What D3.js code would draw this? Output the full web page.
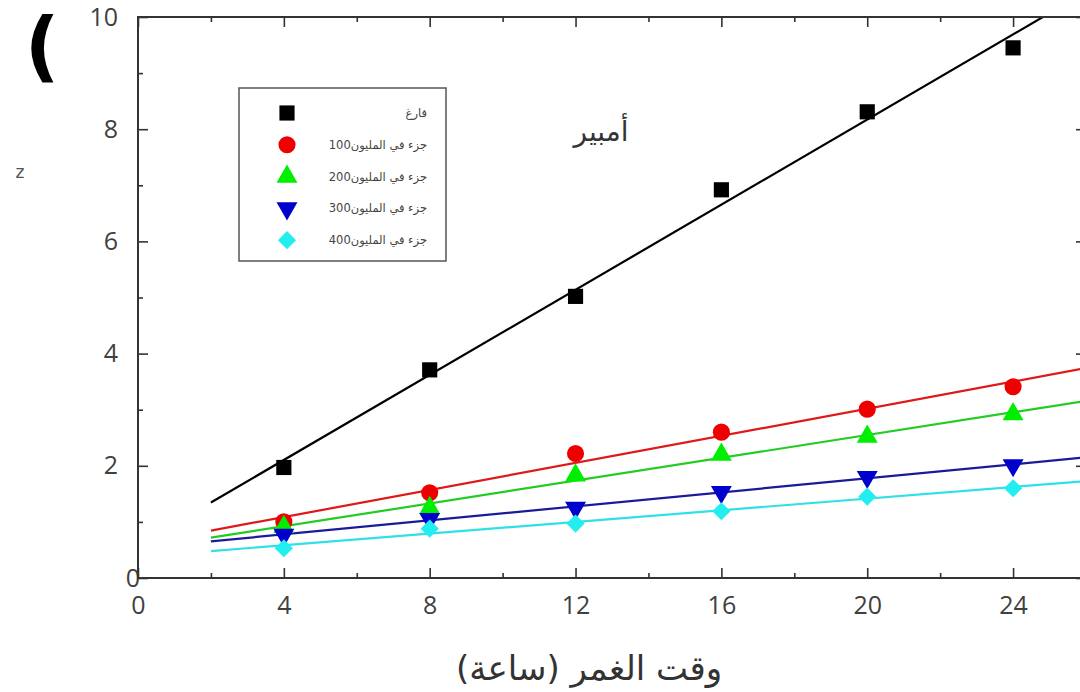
<!DOCTYPE html>
<html>
<head>
<meta charset="utf-8">
<script src="https://cdn.jsdelivr.net/npm/d3@7/dist/d3.min.js"></script>
<style>
  html, body { margin: 0; padding: 0; background: #fff; }
  svg { display: block; }
</style>
</head>
<body>
<svg id="chart" width="1080" height="692"></svg>
<script>
// Immersion time (hours)
const hours = [4, 8, 12, 16, 20, 24];

// Measured values for each inhibitor concentration
const blank  = [1.97, 3.71, 5.02, 6.92, 8.31, 9.45];
const ppm100 = [1.00, 1.52, 2.22, 2.60, 3.01, 3.41];
const ppm200 = [0.91, 1.25, 1.83, 2.20, 2.52, 2.92];
const ppm300 = [0.77, 1.05, 1.25, 1.53, 1.80, 2.01];
const ppm400 = [0.53, 0.88, 0.97, 1.19, 1.45, 1.60];

const seriesNames = ["فارغ", "100جزء في المليون", "200جزء في المليون", "300جزء في المليون", "400جزء في المليون"];

const xTicks = [0, 4, 8, 12, 16, 20, 24];
const xMinorTicks = [2, 6, 10, 14, 18, 22, 26];
const yTicks = [0, 2, 4, 6, 8, 10];
const yMinorTicks = [1, 3, 5, 7, 9];

const xTitle = "وقت الغمر (ساعة)";
const yTitle = "z";
const unitLabel = "أمبير";
const panelMark = "(";

// Fit range for the linear trend lines
const fitRange = [2, 26];

const svg = d3.select("#chart");
const W = 1080, H = 692;
const margin = { left: 138, top: 17, right: -6, bottom: 114 };

const x = d3.scaleLinear().domain([0, 26]).range([margin.left, W - margin.right]);
const y = d3.scaleLinear().domain([0, 10]).range([H - margin.bottom, margin.top]);

const styles = [
  { fill: "#000000", line: "#000000", type: "square" },
  { fill: "#ee0000", line: "#e01818", type: "circle" },
  { fill: "#00ee00", line: "#22cc22", type: "triangle" },
  { fill: "#0000cc", line: "#1a1a9a", type: "triangleDown" },
  { fill: "#22eef0", line: "#30e0e6", type: "diamond" }
];
const seriesValues = [blank, ppm100, ppm200, ppm300, ppm400];

function symbolPath(type) {
  switch (type) {
    case "square": return { d: d3.symbol(d3.symbolSquare, 230)(), rot: 0 };
    case "circle": return { d: d3.symbol(d3.symbolCircle, 230)(), rot: 0 };
    case "triangle": return { d: d3.symbol(d3.symbolTriangle, 190)(), rot: 0 };
    case "triangleDown": return { d: d3.symbol(d3.symbolTriangle, 190)(), rot: 180 };
    case "diamond": return { d: d3.symbol(d3.symbolSquare, 165)(), rot: 45 };
  }
}

// Least-squares line
function fit(xs, ys) {
  const n = xs.length;
  const mx = d3.mean(xs), my = d3.mean(ys);
  let sxy = 0, sxx = 0;
  for (let i = 0; i < n; i++) { sxy += (xs[i] - mx) * (ys[i] - my); sxx += (xs[i] - mx) ** 2; }
  const b = sxy / sxx;
  return { a: my - b * mx, b };
}

// Clip to the plot frame
svg.append("defs").append("clipPath").attr("id", "plotclip")
  .append("rect")
  .attr("x", x(0)).attr("y", y(10))
  .attr("width", x(26) - x(0)).attr("height", y(0) - y(10));

const plot = svg.append("g").attr("clip-path", "url(#plotclip)");

// Trend lines
seriesValues.forEach((vals, i) => {
  const f = fit(hours, vals);
  const pts = fitRange.map(h => [h, f.a + f.b * h]);
  plot.append("path")
    .attr("d", d3.line().x(d => x(d[0])).y(d => y(d[1]))(pts))
    .attr("fill", "none")
    .attr("stroke", styles[i].line)
    .attr("stroke-width", 2.2);
});

// Markers
seriesValues.forEach((vals, i) => {
  const s = symbolPath(styles[i].type);
  svg.append("g").selectAll("path")
    .data(vals.map((v, j) => [hours[j], v]))
    .join("path")
    .attr("d", s.d)
    .attr("transform", d => `translate(${x(d[0])},${y(d[1])}) rotate(${s.rot})`)
    .attr("fill", styles[i].fill);
});

// Axes with inward ticks
const axisColor = "#333";
const labelColor = "#404040";

function styleAxis(g) {
  g.select(".domain").remove();
  g.selectAll(".tick line").attr("stroke", axisColor).attr("stroke-width", 1.6);
  g.selectAll(".tick text").attr("fill", labelColor)
    .style("font-family", "'Open Sans', sans-serif").style("font-size", "25px");
}

// bottom
svg.append("g").attr("transform", `translate(0,${y(0)})`)
  .call(d3.axisBottom(x).tickValues(xTicks).tickSize(-10).tickPadding(18).tickFormat(d3.format("d")))
  .call(styleAxis);
svg.append("g").attr("transform", `translate(0,${y(0)})`)
  .call(d3.axisBottom(x).tickValues(xMinorTicks).tickSize(-5).tickFormat(""))
  .call(styleAxis);
// top
svg.append("g").attr("transform", `translate(0,${y(10)})`)
  .call(d3.axisTop(x).tickValues(xTicks).tickSize(-10).tickFormat(""))
  .call(styleAxis);
svg.append("g").attr("transform", `translate(0,${y(10)})`)
  .call(d3.axisTop(x).tickValues(xMinorTicks).tickSize(-5).tickFormat(""))
  .call(styleAxis);
// left
const yAxisG = svg.append("g").attr("transform", `translate(${x(0)},0)`)
  .call(d3.axisLeft(y).tickValues(yTicks).tickSize(-10).tickPadding(20).tickFormat(d3.format("d")))
  .call(styleAxis);
// the zero label sits against the corner of the frame
yAxisG.selectAll(".tick text").filter(d => d === 0)
  .attr("text-anchor", "middle").attr("x", -5);
svg.append("g").attr("transform", `translate(${x(0)},0)`)
  .call(d3.axisLeft(y).tickValues(yMinorTicks).tickSize(-5).tickFormat(""))
  .call(styleAxis);
// right
svg.append("g").attr("transform", `translate(${x(26)},0)`)
  .call(d3.axisRight(y).tickValues(yTicks).tickSize(-10).tickFormat(""))
  .call(styleAxis);
svg.append("g").attr("transform", `translate(${x(26)},0)`)
  .call(d3.axisRight(y).tickValues(yMinorTicks).tickSize(-5).tickFormat(""))
  .call(styleAxis);

// Frame
svg.append("rect")
  .attr("x", x(0)).attr("y", y(10))
  .attr("width", x(26) - x(0)).attr("height", y(0) - y(10))
  .attr("fill", "none").attr("stroke", axisColor).attr("stroke-width", 2);

// Axis titles
svg.append("text")
  .attr("x", 589).attr("y", 680)
  .attr("text-anchor", "middle")
  .attr("direction", "rtl")
  .style("font-family", "'DejaVu Sans', sans-serif")
  .style("font-size", "34px")
  .attr("fill", "#333")
  .text(xTitle);

svg.append("text")
  .attr("x", 20).attr("y", 178)
  .attr("text-anchor", "middle")
  .style("font-family", "'DejaVu Sans', sans-serif")
  .style("font-size", "17px")
  .attr("fill", "#555")
  .text(yTitle);

svg.append("text")
  .attr("x", 601).attr("y", 141)
  .attr("text-anchor", "middle")
  .style("font-family", "'DejaVu Sans', sans-serif")
  .style("font-size", "28px")
  .attr("fill", "#333")
  .text(unitLabel);

svg.append("text")
  .attr("x", 42).attr("y", 72)
  .attr("text-anchor", "middle")
  .style("font-family", "'DejaVu Sans', sans-serif")
  .style("font-size", "76px")
  .style("font-weight", "bold")
  .attr("fill", "#000")
  .text(panelMark);

// Legend
const legend = svg.append("g");
legend.append("rect")
  .attr("x", 239).attr("y", 88).attr("width", 207).attr("height", 173)
  .attr("fill", "#fff").attr("stroke", "#555").attr("stroke-width", 1.5);

seriesNames.forEach((name, i) => {
  const s = symbolPath(styles[i].type);
  const cy = 113 + i * 31.8;
  legend.append("path")
    .attr("d", s.d)
    .attr("transform", `translate(287,${cy}) rotate(${s.rot})`)
    .attr("fill", styles[i].fill);
  legend.append("text")
    .attr("x", 427).attr("y", cy + 4)
    .attr("text-anchor", "end")
    .style("font-family", "'DejaVu Sans', sans-serif")
    .style("font-size", "11.5px")
    .attr("fill", "#444")
    .text(name);
});
</script>
</body>
</html>
